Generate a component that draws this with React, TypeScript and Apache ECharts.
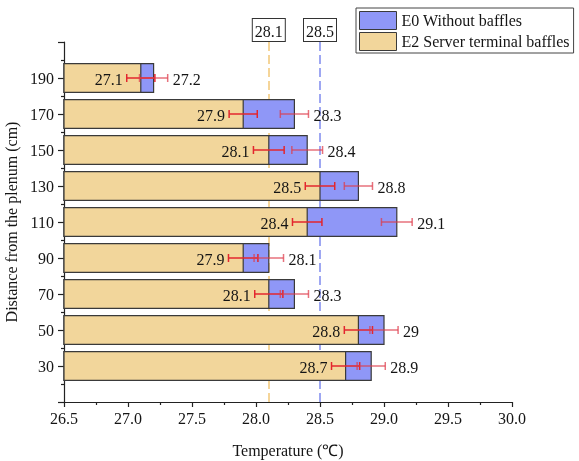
import { useEffect, useRef } from 'react';
import * as echarts from 'echarts';

// Distance from the plenum (cm)
const positions = [190, 170, 150, 130, 110, 90, 70, 50, 30];
// E0 Without baffles (°C)
const e0Values = [27.2, 28.3, 28.4, 28.8, 29.1, 28.1, 28.3, 29.0, 28.9];
const e0Errors = [0.11, 0.11, 0.12, 0.11, 0.12, 0.115, 0.11, 0.11, 0.11];
// E2 Server terminal baffles (°C)
const e2Values = [27.1, 27.9, 28.1, 28.5, 28.4, 27.9, 28.1, 28.8, 28.7];
const e2Errors = [0.11, 0.11, 0.12, 0.115, 0.115, 0.115, 0.11, 0.11, 0.11];
// reference lines
const refLines = [28.1, 28.5];

const E0_NAME = 'E0 Without baffles';
const E2_NAME = 'E2 Server terminal baffles';

const FONT = '"Liberation Serif", "Times New Roman", serif';
const X_MIN = 26.5;
const X_MAX = 30;
const TAN = '#F2D69B';
const BLUE = '#8F97F7';
const TAN_LINE = '#F2C878';
const BLUE_LINE = '#7F8AEE';
const BORDER = '#3a3a3a';
const RED = '#E3262E';
const RED_LIGHT = 'rgba(222, 60, 75, 0.72)';
const BAR_HALF = 8;
const CAP = 4;
const DASH = [9, 4];

export default function App() {
  const ref = useRef<HTMLDivElement>(null);

  useEffect(() => {
    const chart = echarts.init(ref.current!, null, { renderer: 'svg' });

    const barItem = (color: string) => (_params: any, api: any) => {
      const y = api.value(0);
      const v = api.value(1);
      const a = api.coord([X_MIN, y + BAR_HALF]);
      const b = api.coord([v, y - BAR_HALF]);
      return {
        type: 'rect',
        shape: { x: a[0], y: a[1], width: b[0] - a[0], height: b[1] - a[1] },
        style: { fill: color, stroke: BORDER, lineWidth: 1.2 },
      };
    };

    const errItem = (_params: any, api: any) => {
      const y = api.value(0);
      const children: any[] = [];
      const addBar = (v: number, err: number, color: string) => {
        const l = api.coord([v - err, y]);
        const r = api.coord([v + err, y]);
        const st = { stroke: color, lineWidth: 1.5 };
        children.push({ type: 'line', shape: { x1: l[0], y1: l[1], x2: r[0], y2: r[1] }, style: st });
        children.push({ type: 'line', shape: { x1: l[0], y1: l[1] - CAP, x2: l[0], y2: l[1] + CAP }, style: st });
        children.push({ type: 'line', shape: { x1: r[0], y1: r[1] - CAP, x2: r[0], y2: r[1] + CAP }, style: st });
        return [l, r];
      };
      const v2 = api.value(1);
      const v0 = api.value(3);
      const [l2] = addBar(v2, api.value(2), RED);
      const [, r0] = addBar(v0, api.value(4), RED_LIGHT);
      children.push({
        type: 'text',
        x: l2[0] - 4,
        y: l2[1] + 1,
        style: { text: String(v2), fontSize: 16, fontFamily: FONT, fill: '#151515', align: 'right', verticalAlign: 'middle' },
      });
      children.push({
        type: 'text',
        x: r0[0] + 5,
        y: r0[1] + 1,
        style: { text: String(v0), fontSize: 16, fontFamily: FONT, fill: '#151515', align: 'left', verticalAlign: 'middle' },
      });
      return { type: 'group', children };
    };

    const e0Data = positions.map((p, i) => [p, e0Values[i]]);
    const e2Data = positions.map((p, i) => [p, e2Values[i]]);
    const errData = positions.map((p, i) => [p, e2Values[i], e2Errors[i], e0Values[i], e0Errors[i]]);

    chart.setOption({
      animation: false,
      textStyle: { fontFamily: FONT },
      grid: { left: 64, right: 67, top: 42, bottom: 59, containLabel: false, outerBoundsMode: 'none' },
      legend: {
        orient: 'vertical',
        left: 356,
        top: 8,
        padding: [3, 4, 2, 3],
        itemWidth: 37,
        itemHeight: 18,
        itemGap: 2,
        icon: 'rect',
        borderColor: '#444',
        borderWidth: 1,
        backgroundColor: '#fff',
        textStyle: { fontFamily: FONT, fontSize: 16, color: '#151515', lineHeight: 18 },
        data: [
          { name: E0_NAME, itemStyle: { color: BLUE, borderColor: BORDER, borderWidth: 1 } },
          { name: E2_NAME, itemStyle: { color: TAN, borderColor: BORDER, borderWidth: 1 } },
        ],
      },
      xAxis: {
        type: 'value',
        min: X_MIN,
        max: X_MAX,
        interval: 0.5,
        name: 'Temperature (℃)',
        nameLocation: 'middle',
        nameGap: 40,
        nameTextStyle: { fontFamily: FONT, fontSize: 16, color: '#151515' },
        axisLine: { show: true, lineStyle: { color: '#222', width: 1.2 } },
        axisTick: { show: true, length: 5, lineStyle: { color: '#222', width: 1.2 } },
        minorTick: { show: true, splitNumber: 2, length: 3, lineStyle: { color: '#222', width: 1.2 } },
        splitLine: { show: false },
        axisLabel: {
          margin: 8,
          fontFamily: FONT,
          fontSize: 16,
          color: '#151515',
          formatter: (v: number) => v.toFixed(1),
        },
      },
      yAxis: {
        type: 'value',
        min: 10,
        max: 210,
        interval: 20,
        name: 'Distance from the plenum (cm)',
        nameLocation: 'middle',
        nameGap: 37,
        nameTextStyle: { fontFamily: FONT, fontSize: 16, color: '#151515' },
        axisLine: { show: true, lineStyle: { color: '#222', width: 1.2 } },
        axisTick: { show: true, length: 6, lineStyle: { color: '#222', width: 1.2 } },
        minorTick: { show: true, splitNumber: 2, length: 3, lineStyle: { color: '#222', width: 1.2 } },
        splitLine: { show: false },
        axisLabel: {
          margin: 10,
          fontFamily: FONT,
          fontSize: 16,
          color: '#151515',
          showMinLabel: false,
          showMaxLabel: false,
        },
      },
      series: [
        {
          name: 'reference',
          type: 'line',
          z: 1,
          data: [],
          silent: true,
          markLine: {
            z: 1,
            symbol: 'none',
            silent: true,
            lineStyle: { type: DASH, width: 1.5 },
            label: {
              show: true,
              position: 'end',
              distance: 1,
              formatter: '{c}',
              fontFamily: FONT,
              fontSize: 16,
              color: '#151515',
              backgroundColor: '#fff',
              borderColor: '#333',
              borderWidth: 1,
              padding: [4, 2, 2, 2],
            },
            data: [
              { xAxis: refLines[0], lineStyle: { color: TAN_LINE, type: DASH, width: 1.5 } },
              { xAxis: refLines[1], lineStyle: { color: BLUE_LINE, type: DASH, width: 1.5 } },
            ],
          },
        },
        {
          name: E0_NAME,
          type: 'custom',
          z: 3,
          itemStyle: { color: BLUE, borderColor: BORDER, borderWidth: 1 },
          encode: { x: 1, y: 0 },
          renderItem: barItem(BLUE),
          data: e0Data,
        },
        {
          name: E2_NAME,
          type: 'custom',
          z: 4,
          itemStyle: { color: TAN, borderColor: BORDER, borderWidth: 1 },
          encode: { x: 1, y: 0 },
          renderItem: barItem(TAN),
          data: e2Data,
        },
        {
          name: 'errors',
          type: 'custom',
          z: 5,
          encode: { x: 1, y: 0 },
          renderItem: errItem,
          data: errData,
        },
      ],
    });

    return () => chart.dispose();
  }, []);

  return <div ref={ref} style={{ position: 'fixed', left: 0, top: 0, width: 579, height: 461 }} />;
}
